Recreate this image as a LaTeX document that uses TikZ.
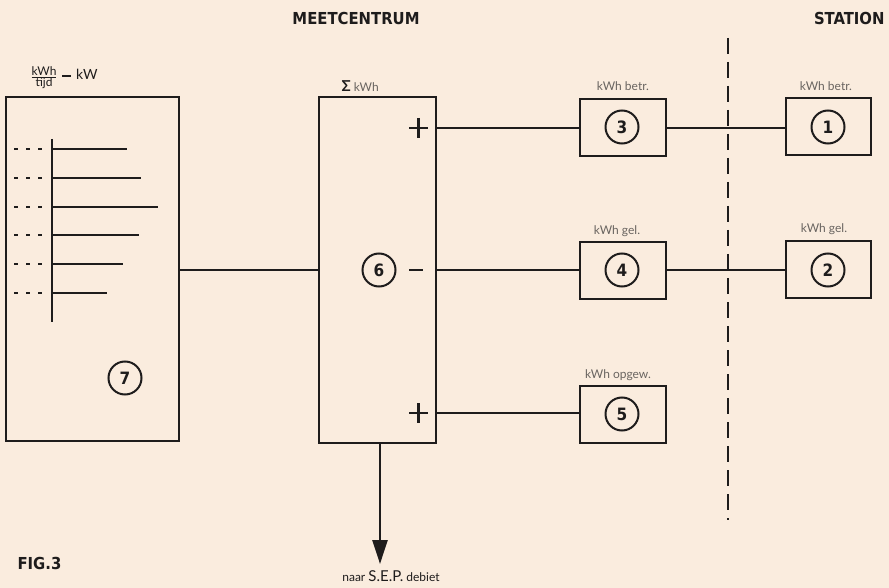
\documentclass[tikz,border=0pt]{standalone}
\usepackage{fontspec}
\setmainfont{Lato}
\newfontfamily\headfont{DejaVu Sans Condensed}
\usetikzlibrary{arrows.meta}
\definecolor{paper}{RGB}{250,236,222}
\definecolor{ink}{RGB}{30,28,28}
\definecolor{lbl}{RGB}{105,100,96}
\begin{document}
\begin{tikzpicture}[x=1pt,y=-1pt,
  wire/.style={draw=ink,line width=2.6pt},
  boxed/.style={draw=ink,line width=2.6pt},
  num/.style={circle,draw=ink,line width=2pt,minimum size=33pt,inner sep=0pt,font=\headfont\bfseries\fontsize{17}{17}\selectfont,text=ink},
  lab/.style={font=\fontsize{12}{13}\selectfont,text=lbl},
  head/.style={font=\headfont\bfseries\fontsize{16.5}{16}\selectfont,text=ink},
  sign/.style={draw=ink,line width=2.6pt}]
\fill[paper] (0,0) rectangle (889,588);
\useasboundingbox (0,0) rectangle (889,588);
% headings
\node[head] (hm) at (356,18) {MEETCENTRUM};
\node[head,anchor=east] (hs) at (888,18) {STATION};
\node[head,anchor=west] (fig) at (14,563) {FIG.3};
% box 7
\draw[boxed] (6,97) rectangle (179,441);
\coordinate (b7r) at (179,270);
\node[text=ink,inner sep=0pt] (frac) at (44,78) {$\frac{\mbox{\fontsize{12}{12}\selectfont kWh}}{\mbox{\fontsize{12}{12}\selectfont tijd}}$};
\node[text=ink,anchor=west,inner sep=0pt,font=\fontsize{14}{14}\selectfont] (kw) at (62,74) {\rule[0.3ex]{9pt}{2.2pt}\hspace{5pt}kW};
\draw[wire] (52,139) -- (52,322);
\foreach \y/\r in {149/127,178/141,207/158,235/139,264/123,293/107}{
  \draw[wire] (52,\y) -- (\r,\y);
  \draw[draw=ink,line width=2.4pt,dash pattern=on 3.5pt off 8.5pt] (14,\y) -- (44,\y);
}
\node[num] (n7) at (125,378) {7};
% box 6
\draw[boxed] (319,97) rectangle (436,443);
\coordinate (b6l) at (319,270);
\coordinate (b6a) at (436,128);
\coordinate (b6b) at (436,270);
\coordinate (b6c) at (436,413);
\coordinate (b6bot) at (380,443);
\node[lab,anchor=west] (sig) at (338,86) {\textcolor{ink}{\fontsize{15}{15}\selectfont\bfseries Σ} kWh};
\draw[sign] (409,128) -- (428,128) (418.5,118) -- (418.5,138);
\draw[sign] (409,270) -- (423,270);
\draw[sign] (409,413) -- (428,413) (418.5,403) -- (418.5,423);
\node[num] (n6) at (379,270) {6};
\draw[wire] (b7r) -- (b6l);
% boxes 3 4 5
\node[boxed,minimum width=86pt,minimum height=57pt,inner sep=0pt] (b3) at (623,127.5) {};
\node[boxed,minimum width=86pt,minimum height=57pt,inner sep=0pt] (b4) at (623,270.5) {};
\node[boxed,minimum width=86pt,minimum height=57pt,inner sep=0pt] (b5) at (623,414.5) {};
\node[num] (n3) at (622,127) {3};
\node[num] (n4) at (622,270) {4};
\node[num] (n5) at (622,414) {5};
\node[lab] (l3) at (623,86) {kWh betr.};
\node[lab] (l4) at (617,231) {kWh gel.};
\node[lab] (l5) at (618,375) {kWh opgew.};
% boxes 1 2
\node[boxed,minimum width=85pt,minimum height=57pt,inner sep=0pt] (b1) at (828.5,126.5) {};
\node[boxed,minimum width=85pt,minimum height=57pt,inner sep=0pt] (b2) at (828.5,269.5) {};
\node[num] (n1) at (828,127) {1};
\node[num] (n2) at (828,270) {2};
\node[lab] (l1) at (826,86) {kWh betr.};
\node[lab] (l2) at (824,229) {kWh gel.};
% wires
\draw[wire] (b6a) -- (b3.west |- b6a);
\draw[wire] (b6b) -- (b4.west |- b6b);
\draw[wire] (b6c) -- (b5.west |- b6c);
\draw[wire] (b3.east |- 0,128) -- (b1.west |- 0,128);
\draw[wire] (b4.east |- 0,270) -- (b2.west |- 0,270);
% dashed boundary
\coordinate (dt) at (728,38);
\coordinate (db) at (728,520);
\draw[draw=ink,line width=2.4pt,dash pattern=on 16pt off 8pt] (dt) -- (db);
% arrow down
\coordinate (ae) at (380,564);
\draw[wire,-{Triangle[length=24pt,width=15pt]}] (b6bot) -- (ae);
\node[text=ink,font=\fontsize{12}{13}\selectfont] (sep) at (391,576) {naar {\fontsize{15}{15}\selectfont S.E.P.} debiet};
\end{tikzpicture}
\end{document}
